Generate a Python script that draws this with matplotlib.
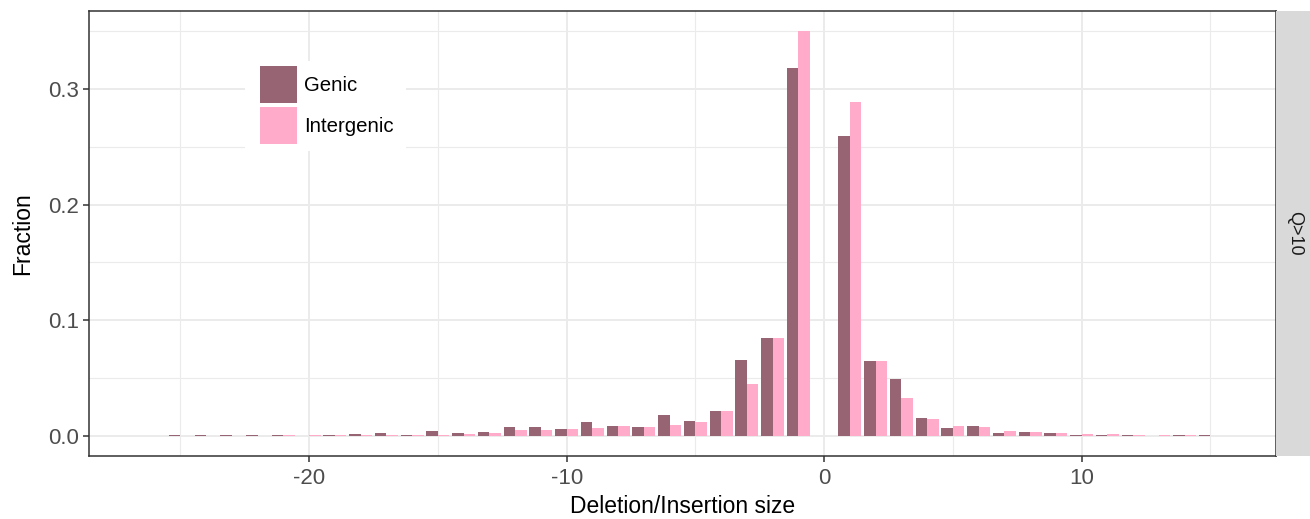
import matplotlib
matplotlib.use("Agg")
import matplotlib.pyplot as plt
from matplotlib.patches import Patch, Rectangle
import numpy as np

plt.rcParams['font.family'] = ['Liberation Sans', 'DejaVu Sans']

sizes = [-26, -25, -24, -23, -22, -21, -20, -19, -18, -17, -16, -15, -14, -13,
         -12, -11, -10, -9, -8, -7, -6, -5, -4, -3, -2, -1,
         1, 2, 3, 4, 5, 6, 7, 8, 9, 10, 11, 12, 13, 14, 15]
genic = [0.0, 0.0005, 0.0005, 0.0005, 0.0005, 0.0005, 0.0001, 0.0008, 0.0014, 0.0020,
         0.0008, 0.0043, 0.0023, 0.0032, 0.0075, 0.0072, 0.0055, 0.0121, 0.0081, 0.0072,
         0.0176, 0.0127, 0.0216, 0.0657, 0.0850, 0.318,
         0.259, 0.0645, 0.049, 0.0153, 0.0066, 0.0086, 0.0026, 0.0032, 0.0020, 0.0009,
         0.0009, 0.0005, 0.0, 0.0005, 0.0005]
intergenic = [0.0, 0.0001, 0.0001, 0.0001, 0.0001, 0.0005, 0.0005, 0.0005, 0.0005, 0.0008,
              0.0010, 0.0009, 0.0017, 0.0023, 0.0049, 0.0049, 0.0058, 0.0066, 0.0086, 0.0075,
              0.0092, 0.0115, 0.0216, 0.0449, 0.0850, 0.350,
              0.289, 0.0645, 0.0323, 0.0144, 0.0084, 0.0072, 0.0037, 0.0029, 0.0020, 0.0012,
              0.0014, 0.0005, 0.0005, 0.0005, 0.0]
series_labels = ["Genic", "Intergenic"]
colors = ["#976474", "#FFABC9"]
facet_label = "Q>10"

W, H = 1310, 519
fig = plt.figure(figsize=(W / 100, H / 100), dpi=100)

L, R, T, B = 89, 1276, 11, 456
ax = fig.add_axes([L / W, 1 - B / H, (R - L) / W, (B - T) / H])

x = np.array(sizes, dtype=float)
bw = 0.45
ax.bar(x - bw / 2, genic, width=bw, color=colors[0], zorder=3, linewidth=0)
ax.bar(x + bw / 2, intergenic, width=bw, color=colors[1], zorder=3, linewidth=0)

ax.set_xlim(-28.55, 17.55)
ax.set_ylim(-0.0175, 0.3675)

ax.set_xticks([-20, -10, 0, 10])
ax.set_xticklabels(["-20", "-10", "0", "10"])
ax.set_xticks([-25, -15, -5, 5, 15], minor=True)
ax.set_yticks([0.0, 0.1, 0.2, 0.3])
ax.set_yticklabels(["0.0", "0.1", "0.2", "0.3"])
ax.set_yticks([0.05, 0.15, 0.25, 0.35], minor=True)

ax.grid(which='major', color='#EBEBEB', linewidth=1.4, zorder=0)
ax.grid(which='minor', color='#EBEBEB', linewidth=0.8, zorder=0)
ax.set_axisbelow(True)

for s in ax.spines.values():
    s.set_color('#333333')
    s.set_linewidth(1.1)

ax.tick_params(axis='x', which='major', pad=5)
ax.tick_params(axis='y', which='major', pad=3)
ax.tick_params(axis='both', which='major', length=4, width=1.1, color='#333333',
               labelcolor='#4D4D4D', labelsize=16)
ax.tick_params(axis='both', which='minor', length=0)

ax.set_xlabel("Deletion/Insertion size", fontsize=16.5, color='black', labelpad=4)
ax.set_ylabel("Fraction", fontsize=16.5, color='black', labelpad=10)

# legend background box
def px2ax(px, py):
    return ((px - L) / (R - L), (B - py) / (B - T))
x0, y0 = px2ax(245, 151)
x1, y1 = px2ax(406, 61)
ax.add_patch(Rectangle((x0, y0), x1 - x0, y1 - y0, transform=ax.transAxes,
                       facecolor='white', edgecolor='none', zorder=4))

handles = [Patch(facecolor=colors[0], edgecolor='none'),
           Patch(facecolor=colors[1], edgecolor='none')]
fs = 14.7
em = fs * 100 / 72
key = 37 / em
hh = (key - 0.245) / 0.65
leg = ax.legend(handles, series_labels, loc='upper left',
                bbox_to_anchor=(260 / W, 1 - 66 / H), bbox_transform=fig.transFigure,
                frameon=False, fontsize=fs, borderpad=0, borderaxespad=0,
                handlelength=key, handleheight=hh,
                labelspacing=4 / em, handletextpad=7 / em)
leg.set_zorder(5)

# facet strip
sax = fig.add_axes([R / W, 1 - B / H, (W - R) / W, (B - T) / H])
sax.set_facecolor('#D9D9D9')
sax.set_xticks([])
sax.set_yticks([])
for s in sax.spines.values():
    s.set_visible(False)
sax.text(0.55, 0.5, facet_label, rotation=-90, ha='center', va='center',
         fontsize=13, color='#1A1A1A', transform=sax.transAxes)

fig.savefig("out.png", dpi=100)
